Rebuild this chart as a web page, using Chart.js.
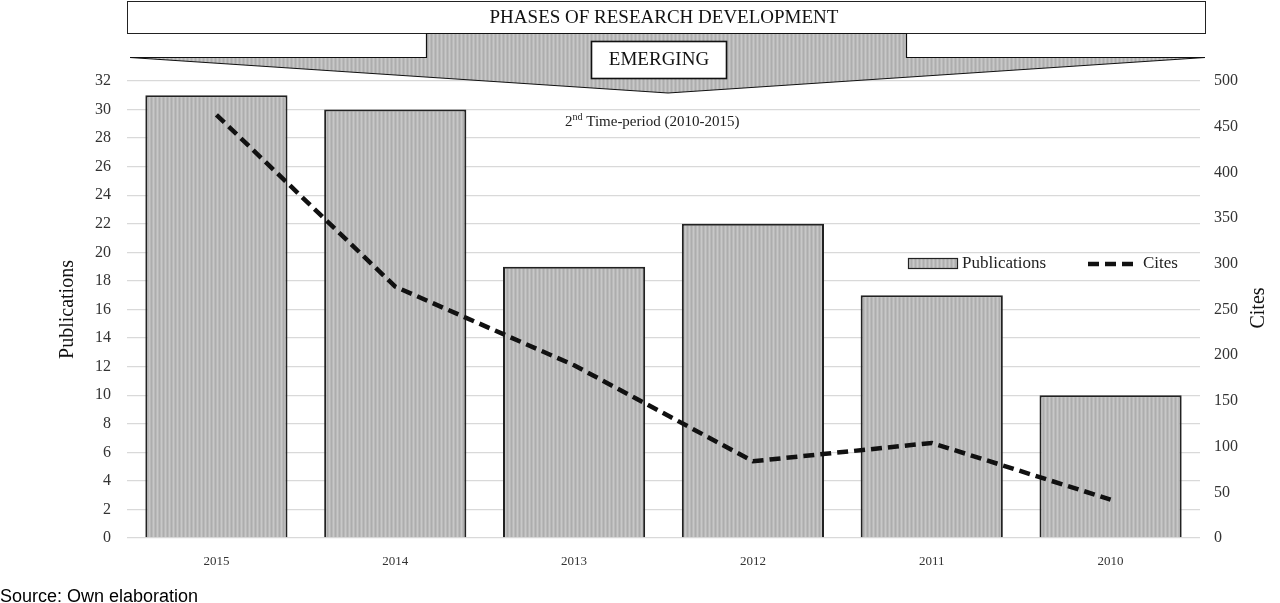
<!DOCTYPE html>
<html>
<head>
<meta charset="utf-8">
<script src="https://cdn.jsdelivr.net/npm/chart.js@4"></script>
<style>
  html, body { margin: 0; padding: 0; background: #fff; }
  #chart { display: block; }
</style>
</head>
<body>
<canvas id="chart" width="1280" height="603"></canvas>
<script>
const years = ["2015", "2014", "2013", "2012", "2011", "2010"];
const publications = [31, 30, 19, 22, 17, 10];
const cites = [463, 275, 189, 84, 104, 42];
const pubTicks = { min: 0, max: 32, step: 2 };
const citeTicks = { min: 0, max: 500, step: 50 };

const SERIF = "'Liberation Serif', 'Times New Roman', serif";
const canvas = document.getElementById("chart");
const ctx = canvas.getContext("2d");

// fine vertical stripes like the excel fill
function stripes() {
  const c = document.createElement("canvas");
  c.width = 4;
  c.height = 1;
  const p = c.getContext("2d");
  p.fillStyle = "#bababa";
  p.fillRect(0, 0, 4, 1);
  p.fillStyle = "#c8c8c8";
  p.fillRect(1, 0, 1, 1);
  p.fillStyle = "#adadad";
  p.fillRect(3, 0, 1, 1);
  return ctx.createPattern(c, "repeat");
}
const fill = stripes();
const dash = [11, 6];

const decorations = {
  id: "decorations",
  afterDraw(chart) {
    const c = chart.ctx;
    c.save();

    // banner box
    c.fillStyle = "#fff";
    c.strokeStyle = "#222";
    c.lineWidth = 1;
    c.fillRect(127.5, 1.5, 1078, 32);
    c.strokeRect(127.5, 1.5, 1078, 32);
    c.fillStyle = "#111";
    c.font = "19px " + SERIF;
    c.textAlign = "center";
    c.textBaseline = "middle";
    c.fillText("PHASES OF RESEARCH DEVELOPMENT", 664, 18);

    // arrow
    c.beginPath();
    c.moveTo(426.5, 33.5);
    c.lineTo(426.5, 57.5);
    c.lineTo(130, 57.5);
    c.lineTo(668, 93);
    c.lineTo(1205, 57.5);
    c.lineTo(906.5, 57.5);
    c.lineTo(906.5, 33.5);
    c.closePath();
    c.fillStyle = fill;
    c.fill();
    c.strokeStyle = "#111";
    c.lineWidth = 1.2;
    c.stroke();

    // emerging box
    c.fillStyle = "#fff";
    c.fillRect(591.5, 41.5, 135, 37);
    c.lineWidth = 1.6;
    c.strokeRect(591.5, 41.5, 135, 37);
    c.fillStyle = "#111";
    c.font = "19px " + SERIF;
    c.fillText("EMERGING", 659, 60);

    // time-period note
    c.textAlign = "left";
    c.textBaseline = "alphabetic";
    c.fillStyle = "#222";
    let x = 565;
    c.font = "15px " + SERIF;
    c.fillText("2", x, 126);
    x += c.measureText("2").width;
    c.font = "10px " + SERIF;
    c.fillText("nd", x, 120);
    x += c.measureText("nd").width;
    c.font = "15px " + SERIF;
    c.fillText(" Time-period (2010-2015)", x, 126);

    // legend
    c.textBaseline = "middle";
    c.fillStyle = fill;
    c.fillRect(908.5, 258.5, 49, 10);
    c.strokeStyle = "#222";
    c.lineWidth = 1.2;
    c.strokeRect(908.5, 258.5, 49, 10);
    c.fillStyle = "#222";
    c.font = "17px " + SERIF;
    c.fillText(chart.data.datasets[0].label, 962, 264);
    c.beginPath();
    c.setLineDash(dash);
    c.strokeStyle = "#111";
    c.lineWidth = 4.5;
    c.moveTo(1088, 264);
    c.lineTo(1135, 264);
    c.stroke();
    c.setLineDash([]);
    c.fillText(chart.data.datasets[1].label, 1143, 264);

    // right axis title
    c.save();
    c.translate(1259, 308);
    c.rotate(-Math.PI / 2);
    c.textAlign = "center";
    c.font = "20px " + SERIF;
    c.fillStyle = "#111";
    c.fillText("Cites", 0, 0);
    c.restore();

    // source
    c.font = "18px 'Liberation Sans', Arial, sans-serif";
    c.fillStyle = "#000";
    c.textAlign = "left";
    c.textBaseline = "alphabetic";
    c.fillText("Source: Own elaboration", 0, 602);

    c.restore();
  },
};

new Chart(ctx, {
  data: {
    labels: years,
    datasets: [
      {
        type: "bar",
        label: "Publications",
        data: publications,
        yAxisID: "y",
        backgroundColor: fill,
        borderColor: "#222",
        borderWidth: 2,
        categoryPercentage: 1,
        barPercentage: 0.795,
        order: 2,
      },
      {
        type: "line",
        label: "Cites",
        data: cites,
        yAxisID: "y1",
        borderColor: "#111",
        borderWidth: 4.5,
        borderDash: dash,
        pointRadius: 0,
        tension: 0,
        fill: false,
        order: 1,
      },
    ],
  },
  options: {
    responsive: false,
    animation: false,
    layout: { padding: { top: 81, left: 0, right: 0, bottom: 0 } },
    plugins: {
      legend: { display: false },
      tooltip: { enabled: false },
    },
    scales: {
      x: {
        grid: { display: false },
        border: { display: false },
        ticks: { font: { family: SERIF, size: 13 }, color: "#333", padding: 8 },
        afterFit(scale) {
          scale.height = 65;
        },
      },
      y: {
        position: "left",
        min: pubTicks.min,
        max: pubTicks.max,
        ticks: {
          stepSize: pubTicks.step,
          padding: 16,
          font: { family: SERIF, size: 16 },
          color: "#333",
        },
        grid: { color: "#d9d9d9", lineWidth: 1.3, drawTicks: false },
        border: { display: false },
        title: {
          display: true,
          text: "Publications",
          font: { family: SERIF, size: 20 },
          color: "#111",
          padding: { top: 56, bottom: 0 },
        },
        afterFit(scale) {
          scale.width = 127;
        },
      },
      y1: {
        position: "right",
        min: citeTicks.min,
        max: citeTicks.max,
        ticks: {
          stepSize: citeTicks.step,
          padding: 14,
          font: { family: SERIF, size: 16 },
          color: "#333",
        },
        grid: { display: false, drawTicks: false },
        border: { display: false },
        afterFit(scale) {
          scale.width = 80;
        },
      },
    },
  },
  plugins: [decorations],
});
</script>
</body>
</html>
